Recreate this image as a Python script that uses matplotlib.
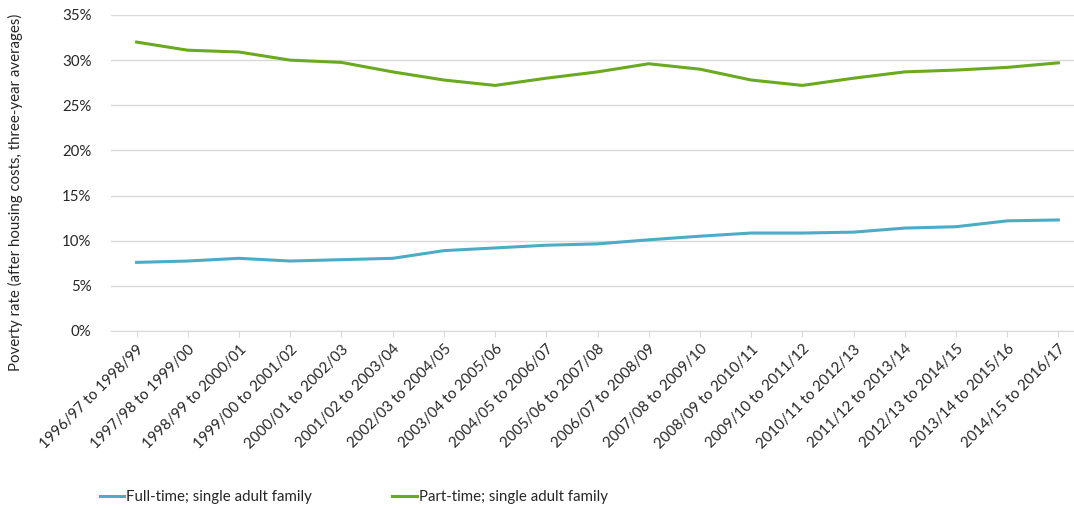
import matplotlib
matplotlib.use('Agg')
import matplotlib.pyplot as plt
from matplotlib.ticker import PercentFormatter

plt.rcParams['font.family'] = ['Lato', 'DejaVu Sans']

periods = ['1996/97 to 1998/99', '1997/98 to 1999/00', '1998/99 to 2000/01',
           '1999/00 to 2001/02', '2000/01 to 2002/03', '2001/02 to 2003/04',
           '2002/03 to 2004/05', '2003/04 to 2005/06', '2004/05 to 2006/07',
           '2005/06 to 2007/08', '2006/07 to 2008/09', '2007/08 to 2009/10',
           '2008/09 to 2010/11', '2009/10 to 2011/12', '2010/11 to 2012/13',
           '2011/12 to 2013/14', '2012/13 to 2014/15', '2013/14 to 2015/16',
           '2014/15 to 2016/17']

full_time = [7.6, 7.75, 8.05, 7.75, 7.9, 8.05, 8.9, 9.2, 9.5, 9.65, 10.1,
             10.5, 10.85, 10.85, 10.95, 11.4, 11.55, 12.2, 12.3]
part_time = [32.0, 31.1, 30.9, 30.0, 29.75, 28.7, 27.8, 27.2, 28.0, 28.7,
             29.6, 29.0, 27.8, 27.2, 28.0, 28.7, 28.9, 29.2, 29.7]

blue = '#4BACC6'
green = '#6AAA1E'
grid_col = '#D9D9D9'
txt_col = '#262626'
fs = 10.8

fig = plt.figure(figsize=(10.74, 5.08), dpi=100)
ax = fig.add_axes([111 / 1074, 177 / 508, (1084 - 111) / 1074, (331 - 15) / 508])

x = range(len(periods))
ax.plot(x, full_time, color=blue, lw=2.2, label='Full-time; single adult family')
ax.plot(x, part_time, color=green, lw=2.2, label='Part-time; single adult family')

ax.set_xlim(-0.5, len(periods) - 0.5)
ax.set_ylim(0, 35)
ax.set_yticks(range(0, 36, 5))
ax.yaxis.set_major_formatter(PercentFormatter(decimals=0))
ax.grid(axis='y', color=grid_col, lw=1)
ax.set_axisbelow(True)

for s in ['top', 'right', 'left']:
    ax.spines[s].set_visible(False)
ax.spines['bottom'].set_color(grid_col)

ax.set_xticks(list(x))
ax.set_xticklabels(periods, rotation=45, ha='right', rotation_mode='anchor',
                   fontsize=fs, color=txt_col)
ax.tick_params(axis='x', length=4, color=grid_col, pad=4)
ax.tick_params(axis='y', length=0, labelsize=fs, labelcolor=txt_col, pad=14)

fig.text(15 / 1074, 1 - 192 / 508,
         'Poverty rate (after housing costs, three-year averages)',
         rotation=90, ha='center', va='center', fontsize=fs, color=txt_col)

fig.legend(loc='center left', bbox_to_anchor=(86 / 1074, 1 - 497 / 508),
           ncol=2, frameon=False, fontsize=fs, handlelength=1.65,
           handletextpad=0.15, columnspacing=5.3, labelcolor=txt_col)

fig.savefig('out.png', dpi=100)
